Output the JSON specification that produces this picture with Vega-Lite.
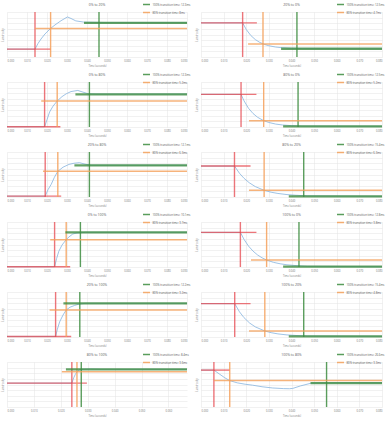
{
"$schema": "https://vega.github.io/schema/vega-lite/v6.json",
"padding": {"left": 1, "top": 0, "right": 1, "bottom": 0},
"background": "white",
"data": {"values": [
{"p":1,"c":"r","k":"v","x":0.014},
{"p":1,"c":"r","k":"h","x":0,"x2":0.022,"y":1.4},
{"p":1,"c":"o","k":"v","x":0.0218,"lg":"80% transition time: 8ms"},
{"p":1,"c":"o","k":"h","x":0.014,"x2":0.09,"y":5.08,"lg":"80% transition time: 8ms"},
{"p":1,"c":"g","k":"v","x":0.046,"lg":"100% transition time: 12.3ms"},
{"p":1,"c":"g","k":"h","x":0.0385,"x2":0.09,"y":6.07,"lg":"100% transition time: 12.3ms"},
{"p":1,"c":"b","x":0,"y":1.4},{"p":1,"c":"b","x":0.014,"y":1.4},{"p":1,"c":"b","x":0.0155,"y":2.4},{"p":1,"c":"b","x":0.017,"y":3.2},{"p":1,"c":"b","x":0.019,"y":4.1},{"p":1,"c":"b","x":0.0218,"y":5.08},{"p":1,"c":"b","x":0.024,"y":5.7},{"p":1,"c":"b","x":0.027,"y":6.45},{"p":1,"c":"b","x":0.0302,"y":7.12},{"p":1,"c":"b","x":0.032,"y":6.85},{"p":1,"c":"b","x":0.0344,"y":6.42},{"p":1,"c":"b","x":0.0385,"y":6.2},{"p":1,"c":"b","x":0.05,"y":6.12},{"p":1,"c":"b","x":0.09,"y":6.12},

{"p":2,"c":"r","k":"v","x":0.0184},
{"p":2,"c":"r","k":"h","x":0,"x2":0.0247,"y":6.07},
{"p":2,"c":"o","k":"v","x":0.0274,"lg":"80% transition time: 4.7ms"},
{"p":2,"c":"o","k":"h","x":0.0208,"x2":0.08,"y":2.33,"lg":"80% transition time: 4.7ms"},
{"p":2,"c":"g","k":"v","x":0.0424,"lg":"100% transition time: 12.5ms"},
{"p":2,"c":"g","k":"h","x":0.0354,"x2":0.08,"y":1.46,"lg":"100% transition time: 12.5ms"},
{"p":2,"c":"b","x":0,"y":6.07},{"p":2,"c":"b","x":0.0184,"y":6.07},{"p":2,"c":"b","x":0.02,"y":4.89},{"p":2,"c":"b","x":0.022,"y":3.83},{"p":2,"c":"b","x":0.024,"y":3.1},{"p":2,"c":"b","x":0.026,"y":2.59},{"p":2,"c":"b","x":0.028,"y":2.24},{"p":2,"c":"b","x":0.03,"y":2.0},{"p":2,"c":"b","x":0.033,"y":1.77},{"p":2,"c":"b","x":0.036,"y":1.64},{"p":2,"c":"b","x":0.04,"y":1.54},{"p":2,"c":"b","x":0.045,"y":1.5},{"p":2,"c":"b","x":0.08,"y":1.46},

{"p":3,"c":"r","k":"v","x":0.0188},
{"p":3,"c":"r","k":"h","x":0,"x2":0.0267,"y":0.05},
{"p":3,"c":"o","k":"v","x":0.0251,"lg":"80% transition time: 5.2ms"},
{"p":3,"c":"o","k":"h","x":0.0171,"x2":0.09,"y":4.62,"lg":"80% transition time: 5.2ms"},
{"p":3,"c":"g","k":"v","x":0.0412,"lg":"100% transition time: 12.3ms"},
{"p":3,"c":"g","k":"h","x":0.0342,"x2":0.09,"y":5.8,"lg":"100% transition time: 12.3ms"},
{"p":3,"c":"b","x":0,"y":0.05},{"p":3,"c":"b","x":0.0188,"y":0.05},{"p":3,"c":"b","x":0.02,"y":1.3},{"p":3,"c":"b","x":0.0213,"y":2.67},{"p":3,"c":"b","x":0.023,"y":3.7},{"p":3,"c":"b","x":0.0251,"y":4.62},{"p":3,"c":"b","x":0.0275,"y":5.4},{"p":3,"c":"b","x":0.0296,"y":5.9},{"p":3,"c":"b","x":0.032,"y":6.3},{"p":3,"c":"b","x":0.0354,"y":6.5},{"p":3,"c":"b","x":0.038,"y":6.2},{"p":3,"c":"b","x":0.0407,"y":5.9},{"p":3,"c":"b","x":0.045,"y":5.85},{"p":3,"c":"b","x":0.09,"y":5.85},

{"p":4,"c":"r","k":"v","x":0.0177},
{"p":4,"c":"r","k":"h","x":0,"x2":0.0245,"y":5.8},
{"p":4,"c":"o","k":"v","x":0.0277,"lg":"80% transition time: 5.2ms"},
{"p":4,"c":"o","k":"h","x":0.0212,"x2":0.08,"y":1.13,"lg":"80% transition time: 5.2ms"},
{"p":4,"c":"g","k":"v","x":0.0429,"lg":"100% transition time: 12.5ms"},
{"p":4,"c":"g","k":"h","x":0.0363,"x2":0.08,"y":0.12,"lg":"100% transition time: 12.5ms"},
{"p":4,"c":"b","x":0,"y":5.8},{"p":4,"c":"b","x":0.0177,"y":5.8},{"p":4,"c":"b","x":0.019,"y":4.66},{"p":4,"c":"b","x":0.021,"y":3.33},{"p":4,"c":"b","x":0.023,"y":2.4},{"p":4,"c":"b","x":0.025,"y":1.73},{"p":4,"c":"b","x":0.0277,"y":1.13},{"p":4,"c":"b","x":0.03,"y":0.8},{"p":4,"c":"b","x":0.033,"y":0.52},{"p":4,"c":"b","x":0.036,"y":0.36},{"p":4,"c":"b","x":0.04,"y":0.24},{"p":4,"c":"b","x":0.045,"y":0.15},{"p":4,"c":"b","x":0.08,"y":0.12},

{"p":5,"c":"r","k":"v","x":0.0191},
{"p":5,"c":"r","k":"h","x":0,"x2":0.0271,"y":0.15},
{"p":5,"c":"o","k":"v","x":0.0254,"lg":"80% transition time: 6.3ms"},
{"p":5,"c":"o","k":"h","x":0.018,"x2":0.09,"y":4.56,"lg":"80% transition time: 6.3ms"},
{"p":5,"c":"g","k":"v","x":0.0412,"lg":"100% transition time: 12.1ms"},
{"p":5,"c":"g","k":"h","x":0.0337,"x2":0.09,"y":5.63,"lg":"100% transition time: 12.1ms"},
{"p":5,"c":"b","x":0,"y":0.15},{"p":5,"c":"b","x":0.0191,"y":0.15},{"p":5,"c":"b","x":0.0205,"y":1.3},{"p":5,"c":"b","x":0.0221,"y":2.25},{"p":5,"c":"b","x":0.0237,"y":3.5},{"p":5,"c":"b","x":0.0254,"y":4.56},{"p":5,"c":"b","x":0.028,"y":5.3},{"p":5,"c":"b","x":0.031,"y":5.8},{"p":5,"c":"b","x":0.0335,"y":6.0},{"p":5,"c":"b","x":0.0362,"y":6.1},{"p":5,"c":"b","x":0.039,"y":5.85},{"p":5,"c":"b","x":0.042,"y":5.65},{"p":5,"c":"b","x":0.09,"y":5.65},

{"p":6,"c":"r","k":"v","x":0.0148},
{"p":6,"c":"r","k":"h","x":0,"x2":0.0219,"y":5.5},
{"p":6,"c":"o","k":"v","x":0.0279,"lg":"80% transition time: 6.3ms"},
{"p":6,"c":"o","k":"h","x":0.0212,"x2":0.08,"y":1.19,"lg":"80% transition time: 6.3ms"},
{"p":6,"c":"g","k":"v","x":0.0454,"lg":"100% transition time: 15.4ms"},
{"p":6,"c":"g","k":"h","x":0.0388,"x2":0.08,"y":0.12,"lg":"100% transition time: 15.4ms"},
{"p":6,"c":"b","x":0,"y":5.5},{"p":6,"c":"b","x":0.0148,"y":5.5},{"p":6,"c":"b","x":0.017,"y":4.22},{"p":6,"c":"b","x":0.019,"y":3.33},{"p":6,"c":"b","x":0.0213,"y":2.54},{"p":6,"c":"b","x":0.024,"y":1.85},{"p":6,"c":"b","x":0.0279,"y":1.19},{"p":6,"c":"b","x":0.031,"y":0.85},{"p":6,"c":"b","x":0.034,"y":0.63},{"p":6,"c":"b","x":0.038,"y":0.43},{"p":6,"c":"b","x":0.042,"y":0.31},{"p":6,"c":"b","x":0.047,"y":0.2},{"p":6,"c":"b","x":0.08,"y":0.12},

{"p":7,"c":"r","k":"v","x":0.0238},
{"p":7,"c":"r","k":"h","x":0,"x2":0.0316,"y":0.05},
{"p":7,"c":"o","k":"v","x":0.0296,"lg":"80% transition time: 3.7ms"},
{"p":7,"c":"o","k":"h","x":0.0216,"x2":0.09,"y":4.86,"lg":"80% transition time: 3.7ms"},
{"p":7,"c":"g","k":"v","x":0.0367,"lg":"100% transition time: 10.1ms"},
{"p":7,"c":"g","k":"h","x":0.0292,"x2":0.09,"y":6.16,"lg":"100% transition time: 10.1ms"},
{"p":7,"c":"b","x":0,"y":0.05},{"p":7,"c":"b","x":0.0238,"y":0.05},{"p":7,"c":"b","x":0.0248,"y":1.5},{"p":7,"c":"b","x":0.0259,"y":2.79},{"p":7,"c":"b","x":0.0275,"y":3.9},{"p":7,"c":"b","x":0.0296,"y":4.86},{"p":7,"c":"b","x":0.031,"y":5.35},{"p":7,"c":"b","x":0.0329,"y":5.87},{"p":7,"c":"b","x":0.035,"y":6.05},{"p":7,"c":"b","x":0.0392,"y":6.16},{"p":7,"c":"b","x":0.09,"y":6.16},

{"p":8,"c":"r","k":"v","x":0.0174},
{"p":8,"c":"r","k":"h","x":0,"x2":0.0245,"y":6.16},
{"p":8,"c":"o","k":"v","x":0.029,"lg":"80% transition time: 3.8ms"},
{"p":8,"c":"o","k":"h","x":0.0221,"x2":0.08,"y":1.24,"lg":"80% transition time: 3.8ms"},
{"p":8,"c":"g","k":"v","x":0.0433,"lg":"100% transition time: 12.8ms"},
{"p":8,"c":"g","k":"h","x":0.0363,"x2":0.08,"y":0.06,"lg":"100% transition time: 12.8ms"},
{"p":8,"c":"b","x":0,"y":6.16},{"p":8,"c":"b","x":0.0174,"y":6.16},{"p":8,"c":"b","x":0.019,"y":4.92},{"p":8,"c":"b","x":0.021,"y":3.72},{"p":8,"c":"b","x":0.023,"y":2.82},{"p":8,"c":"b","x":0.025,"y":2.14},{"p":8,"c":"b","x":0.027,"y":1.63},{"p":8,"c":"b","x":0.029,"y":1.24},{"p":8,"c":"b","x":0.032,"y":0.83},{"p":8,"c":"b","x":0.035,"y":0.57},{"p":8,"c":"b","x":0.038,"y":0.39},{"p":8,"c":"b","x":0.042,"y":0.25},{"p":8,"c":"b","x":0.047,"y":0.12},{"p":8,"c":"b","x":0.08,"y":0.06},

{"p":9,"c":"r","k":"v","x":0.0243},
{"p":9,"c":"r","k":"h","x":0,"x2":0.0321,"y":0.1},
{"p":9,"c":"o","k":"v","x":0.0296,"lg":"80% transition time: 3.2ms"},
{"p":9,"c":"o","k":"h","x":0.0213,"x2":0.09,"y":4.8,"lg":"80% transition time: 3.2ms"},
{"p":9,"c":"g","k":"v","x":0.0364,"lg":"100% transition time: 12.2ms"},
{"p":9,"c":"g","k":"h","x":0.0282,"x2":0.09,"y":5.98,"lg":"100% transition time: 12.2ms"},
{"p":9,"c":"b","x":0,"y":0.1},{"p":9,"c":"b","x":0.0243,"y":0.1},{"p":9,"c":"b","x":0.0252,"y":1.4},{"p":9,"c":"b","x":0.0263,"y":2.67},{"p":9,"c":"b","x":0.028,"y":3.9},{"p":9,"c":"b","x":0.0296,"y":4.8},{"p":9,"c":"b","x":0.0315,"y":5.3},{"p":9,"c":"b","x":0.0337,"y":5.6},{"p":9,"c":"b","x":0.036,"y":5.85},{"p":9,"c":"b","x":0.039,"y":5.98},{"p":9,"c":"b","x":0.09,"y":5.98},

{"p":10,"c":"r","k":"v","x":0.0149},
{"p":10,"c":"r","k":"h","x":0,"x2":0.0219,"y":5.93},
{"p":10,"c":"o","k":"v","x":0.0282,"lg":"80% transition time: 4.8ms"},
{"p":10,"c":"o","k":"h","x":0.0212,"x2":0.08,"y":1.07,"lg":"80% transition time: 4.8ms"},
{"p":10,"c":"g","k":"v","x":0.0454,"lg":"100% transition time: 15.4ms"},
{"p":10,"c":"g","k":"h","x":0.0388,"x2":0.08,"y":0.12,"lg":"100% transition time: 15.4ms"},
{"p":10,"c":"b","x":0,"y":5.93},{"p":10,"c":"b","x":0.0149,"y":5.93},{"p":10,"c":"b","x":0.017,"y":4.48},{"p":10,"c":"b","x":0.019,"y":3.44},{"p":10,"c":"b","x":0.0215,"y":2.48},{"p":10,"c":"b","x":0.024,"y":1.8},{"p":10,"c":"b","x":0.0282,"y":1.07},{"p":10,"c":"b","x":0.031,"y":0.77},{"p":10,"c":"b","x":0.034,"y":0.55},{"p":10,"c":"b","x":0.038,"y":0.37},{"p":10,"c":"b","x":0.042,"y":0.27},{"p":10,"c":"b","x":0.047,"y":0.16},{"p":10,"c":"b","x":0.08,"y":0.12},

{"p":11,"c":"r","k":"v","x":0.0241},
{"p":11,"c":"r","k":"h","x":0,"x2":0.0297,"y":4.25},
{"p":11,"c":"o","k":"v","x":0.026,"lg":"80% transition time: 3.6ms"},
{"p":11,"c":"o","k":"h","x":0.0204,"x2":0.0669,"y":6.25,"lg":"80% transition time: 3.6ms"},
{"p":11,"c":"g","k":"v","x":0.0276,"lg":"100% transition time: 8.4ms"},
{"p":11,"c":"g","k":"h","x":0.0219,"x2":0.0669,"y":6.69,"lg":"100% transition time: 8.4ms"},
{"p":11,"c":"b","x":0,"y":4.25},{"p":11,"c":"b","x":0.0241,"y":4.25},{"p":11,"c":"b","x":0.0248,"y":5.2},{"p":11,"c":"b","x":0.0254,"y":5.8},{"p":11,"c":"b","x":0.026,"y":6.25},{"p":11,"c":"b","x":0.0268,"y":6.56},{"p":11,"c":"b","x":0.0276,"y":6.69},{"p":11,"c":"b","x":0.031,"y":6.75},{"p":11,"c":"b","x":0.035,"y":6.7},{"p":11,"c":"b","x":0.0669,"y":6.69},

{"p":12,"c":"r","k":"v","x":0.0057},
{"p":12,"c":"r","k":"h","x":0,"x2":0.0128,"y":6.56},
{"p":12,"c":"o","k":"v","x":0.0127,"lg":"80% transition time: 3.3ms"},
{"p":12,"c":"o","k":"h","x":0.0057,"x2":0.08,"y":4.69,"lg":"80% transition time: 3.3ms"},
{"p":12,"c":"g","k":"v","x":0.0555,"lg":"100% transition time: 26.6ms"},
{"p":12,"c":"g","k":"h","x":0.0484,"x2":0.08,"y":4.25,"lg":"100% transition time: 26.6ms"},
{"p":12,"c":"b","x":0,"y":6.56},{"p":12,"c":"b","x":0.0057,"y":6.56},{"p":12,"c":"b","x":0.008,"y":5.9},{"p":12,"c":"b","x":0.0105,"y":5.2},{"p":12,"c":"b","x":0.0127,"y":4.69},{"p":12,"c":"b","x":0.016,"y":4.3},{"p":12,"c":"b","x":0.0195,"y":4.05},{"p":12,"c":"b","x":0.0228,"y":3.88},{"p":12,"c":"b","x":0.027,"y":3.6},{"p":12,"c":"b","x":0.0317,"y":3.38},{"p":12,"c":"b","x":0.0365,"y":3.27},{"p":12,"c":"b","x":0.0391,"y":3.25},{"p":12,"c":"b","x":0.0406,"y":3.31},{"p":12,"c":"b","x":0.044,"y":3.75},{"p":12,"c":"b","x":0.0488,"y":4.25},{"p":12,"c":"b","x":0.06,"y":4.3},{"p":12,"c":"b","x":0.08,"y":4.3}
]},
"columns": 2,
"bounds": "flush",
"spacing": {"row": 25, "column": 14},
"concat": [
{"title":"0% to 20%","width":180,"height":45,"transform":[{"filter":"datum.p==1"}],
 "encoding":{"x":{"field":"x","type":"quantitative","scale":{"domain":[0,0.09],"nice":false},"axis":{"title":"Time (seconds)","format":".3f","values":[0,0.01,0.02,0.03,0.04,0.05,0.06,0.07,0.08,0.09]}}},
 "layer":[
  {"transform":[{"filter":"datum.c=='b'"}],"mark":{"type":"line","color":"#86b4de","strokeWidth":0.8},"encoding":{"y":{"field":"y","type":"quantitative","scale":{"domain":[0,8],"nice":false},"axis":{"title":"Luminosity","labels":false,"values":[0,1,2,3,4,5,6,7,8]}}}},
  {"transform":[{"filter":"datum.c=='r'&&datum.k=='v'"}],"mark":{"type":"rule","color":"#e5474d","strokeWidth":1.4,"opacity":0.75},"encoding":{}},
  {"transform":[{"filter":"datum.c=='r'&&datum.k=='h'"}],"mark":{"type":"rule","color":"#e5474d","strokeWidth":1.4,"opacity":0.75},"encoding":{"x2":{"field":"x2"},"y":{"field":"y","type":"quantitative","scale":{"domain":[0,8],"nice":false},"axis":{"title":"Luminosity","labels":false,"values":[0,1,2,3,4,5,6,7,8]}}}},
  {"transform":[{"filter":"(datum.c=='o'||datum.c=='g')&&datum.k=='v'"}],"mark":{"type":"rule","strokeWidth":1.4,"opacity":0.85},"encoding":{"color":{"field":"lg","type":"nominal","legend":{"title":null}}}},
  {"transform":[{"filter":"(datum.c=='o'||datum.c=='g')&&datum.k=='h'"}],"mark":{"type":"rule","opacity":0.8},"encoding":{"x2":{"field":"x2"},"y":{"field":"y","type":"quantitative","scale":{"domain":[0,8],"nice":false},"axis":{"title":"Luminosity","labels":false,"values":[0,1,2,3,4,5,6,7,8]}},"color":{"field":"lg","type":"nominal","legend":{"title":null}},"strokeWidth":{"condition":{"test":"datum.c=='g'","value":2.4},"value":1.5}}}
 ]},
{"title":"20% to 0%","width":181,"height":45,"transform":[{"filter":"datum.p==2"}],
 "encoding":{"x":{"field":"x","type":"quantitative","scale":{"domain":[0,0.08],"nice":false},"axis":{"title":"Time (seconds)","format":".3f","values":[0,0.01,0.02,0.03,0.04,0.05,0.06,0.07,0.08]}}},
 "layer":[
  {"transform":[{"filter":"datum.c=='b'"}],"mark":{"type":"line","color":"#86b4de","strokeWidth":0.8},"encoding":{"y":{"field":"y","type":"quantitative","scale":{"domain":[0,8],"nice":false},"axis":{"title":"Luminosity","labels":false,"values":[0,1,2,3,4,5,6,7,8]}}}},
  {"transform":[{"filter":"datum.c=='r'&&datum.k=='v'"}],"mark":{"type":"rule","color":"#e5474d","strokeWidth":1.4,"opacity":0.75},"encoding":{}},
  {"transform":[{"filter":"datum.c=='r'&&datum.k=='h'"}],"mark":{"type":"rule","color":"#e5474d","strokeWidth":1.4,"opacity":0.75},"encoding":{"x2":{"field":"x2"},"y":{"field":"y","type":"quantitative","scale":{"domain":[0,8],"nice":false},"axis":{"title":"Luminosity","labels":false,"values":[0,1,2,3,4,5,6,7,8]}}}},
  {"transform":[{"filter":"(datum.c=='o'||datum.c=='g')&&datum.k=='v'"}],"mark":{"type":"rule","strokeWidth":1.4,"opacity":0.85},"encoding":{"color":{"field":"lg","type":"nominal","legend":{"title":null}}}},
  {"transform":[{"filter":"(datum.c=='o'||datum.c=='g')&&datum.k=='h'"}],"mark":{"type":"rule","opacity":0.8},"encoding":{"x2":{"field":"x2"},"y":{"field":"y","type":"quantitative","scale":{"domain":[0,8],"nice":false},"axis":{"title":"Luminosity","labels":false,"values":[0,1,2,3,4,5,6,7,8]}},"color":{"field":"lg","type":"nominal","legend":{"title":null}},"strokeWidth":{"condition":{"test":"datum.c=='g'","value":2.4},"value":1.5}}}
 ]},
{"title":"0% to 80%","width":180,"height":45,"transform":[{"filter":"datum.p==3"}],
 "encoding":{"x":{"field":"x","type":"quantitative","scale":{"domain":[0,0.09],"nice":false},"axis":{"title":"Time (seconds)","format":".3f","values":[0,0.01,0.02,0.03,0.04,0.05,0.06,0.07,0.08,0.09]}}},
 "layer":[
  {"transform":[{"filter":"datum.c=='b'"}],"mark":{"type":"line","color":"#86b4de","strokeWidth":0.8},"encoding":{"y":{"field":"y","type":"quantitative","scale":{"domain":[0,8],"nice":false},"axis":{"title":"Luminosity","labels":false,"values":[0,1,2,3,4,5,6,7,8]}}}},
  {"transform":[{"filter":"datum.c=='r'&&datum.k=='v'"}],"mark":{"type":"rule","color":"#e5474d","strokeWidth":1.4,"opacity":0.75},"encoding":{}},
  {"transform":[{"filter":"datum.c=='r'&&datum.k=='h'"}],"mark":{"type":"rule","color":"#e5474d","strokeWidth":1.4,"opacity":0.75},"encoding":{"x2":{"field":"x2"},"y":{"field":"y","type":"quantitative","scale":{"domain":[0,8],"nice":false},"axis":{"title":"Luminosity","labels":false,"values":[0,1,2,3,4,5,6,7,8]}}}},
  {"transform":[{"filter":"(datum.c=='o'||datum.c=='g')&&datum.k=='v'"}],"mark":{"type":"rule","strokeWidth":1.4,"opacity":0.85},"encoding":{"color":{"field":"lg","type":"nominal","legend":{"title":null}}}},
  {"transform":[{"filter":"(datum.c=='o'||datum.c=='g')&&datum.k=='h'"}],"mark":{"type":"rule","opacity":0.8},"encoding":{"x2":{"field":"x2"},"y":{"field":"y","type":"quantitative","scale":{"domain":[0,8],"nice":false},"axis":{"title":"Luminosity","labels":false,"values":[0,1,2,3,4,5,6,7,8]}},"color":{"field":"lg","type":"nominal","legend":{"title":null}},"strokeWidth":{"condition":{"test":"datum.c=='g'","value":2.4},"value":1.5}}}
 ]},
{"title":"80% to 0%","width":181,"height":45,"transform":[{"filter":"datum.p==4"}],
 "encoding":{"x":{"field":"x","type":"quantitative","scale":{"domain":[0,0.08],"nice":false},"axis":{"title":"Time (seconds)","format":".3f","values":[0,0.01,0.02,0.03,0.04,0.05,0.06,0.07,0.08]}}},
 "layer":[
  {"transform":[{"filter":"datum.c=='b'"}],"mark":{"type":"line","color":"#86b4de","strokeWidth":0.8},"encoding":{"y":{"field":"y","type":"quantitative","scale":{"domain":[0,8],"nice":false},"axis":{"title":"Luminosity","labels":false,"values":[0,1,2,3,4,5,6,7,8]}}}},
  {"transform":[{"filter":"datum.c=='r'&&datum.k=='v'"}],"mark":{"type":"rule","color":"#e5474d","strokeWidth":1.4,"opacity":0.75},"encoding":{}},
  {"transform":[{"filter":"datum.c=='r'&&datum.k=='h'"}],"mark":{"type":"rule","color":"#e5474d","strokeWidth":1.4,"opacity":0.75},"encoding":{"x2":{"field":"x2"},"y":{"field":"y","type":"quantitative","scale":{"domain":[0,8],"nice":false},"axis":{"title":"Luminosity","labels":false,"values":[0,1,2,3,4,5,6,7,8]}}}},
  {"transform":[{"filter":"(datum.c=='o'||datum.c=='g')&&datum.k=='v'"}],"mark":{"type":"rule","strokeWidth":1.4,"opacity":0.85},"encoding":{"color":{"field":"lg","type":"nominal","legend":{"title":null}}}},
  {"transform":[{"filter":"(datum.c=='o'||datum.c=='g')&&datum.k=='h'"}],"mark":{"type":"rule","opacity":0.8},"encoding":{"x2":{"field":"x2"},"y":{"field":"y","type":"quantitative","scale":{"domain":[0,8],"nice":false},"axis":{"title":"Luminosity","labels":false,"values":[0,1,2,3,4,5,6,7,8]}},"color":{"field":"lg","type":"nominal","legend":{"title":null}},"strokeWidth":{"condition":{"test":"datum.c=='g'","value":2.4},"value":1.5}}}
 ]},
{"title":"20% to 80%","width":180,"height":45,"transform":[{"filter":"datum.p==5"}],
 "encoding":{"x":{"field":"x","type":"quantitative","scale":{"domain":[0,0.09],"nice":false},"axis":{"title":"Time (seconds)","format":".3f","values":[0,0.01,0.02,0.03,0.04,0.05,0.06,0.07,0.08,0.09]}}},
 "layer":[
  {"transform":[{"filter":"datum.c=='b'"}],"mark":{"type":"line","color":"#86b4de","strokeWidth":0.8},"encoding":{"y":{"field":"y","type":"quantitative","scale":{"domain":[0,8],"nice":false},"axis":{"title":"Luminosity","labels":false,"values":[0,1,2,3,4,5,6,7,8]}}}},
  {"transform":[{"filter":"datum.c=='r'&&datum.k=='v'"}],"mark":{"type":"rule","color":"#e5474d","strokeWidth":1.4,"opacity":0.75},"encoding":{}},
  {"transform":[{"filter":"datum.c=='r'&&datum.k=='h'"}],"mark":{"type":"rule","color":"#e5474d","strokeWidth":1.4,"opacity":0.75},"encoding":{"x2":{"field":"x2"},"y":{"field":"y","type":"quantitative","scale":{"domain":[0,8],"nice":false},"axis":{"title":"Luminosity","labels":false,"values":[0,1,2,3,4,5,6,7,8]}}}},
  {"transform":[{"filter":"(datum.c=='o'||datum.c=='g')&&datum.k=='v'"}],"mark":{"type":"rule","strokeWidth":1.4,"opacity":0.85},"encoding":{"color":{"field":"lg","type":"nominal","legend":{"title":null}}}},
  {"transform":[{"filter":"(datum.c=='o'||datum.c=='g')&&datum.k=='h'"}],"mark":{"type":"rule","opacity":0.8},"encoding":{"x2":{"field":"x2"},"y":{"field":"y","type":"quantitative","scale":{"domain":[0,8],"nice":false},"axis":{"title":"Luminosity","labels":false,"values":[0,1,2,3,4,5,6,7,8]}},"color":{"field":"lg","type":"nominal","legend":{"title":null}},"strokeWidth":{"condition":{"test":"datum.c=='g'","value":2.4},"value":1.5}}}
 ]},
{"title":"80% to 20%","width":181,"height":45,"transform":[{"filter":"datum.p==6"}],
 "encoding":{"x":{"field":"x","type":"quantitative","scale":{"domain":[0,0.08],"nice":false},"axis":{"title":"Time (seconds)","format":".3f","values":[0,0.01,0.02,0.03,0.04,0.05,0.06,0.07,0.08]}}},
 "layer":[
  {"transform":[{"filter":"datum.c=='b'"}],"mark":{"type":"line","color":"#86b4de","strokeWidth":0.8},"encoding":{"y":{"field":"y","type":"quantitative","scale":{"domain":[0,8],"nice":false},"axis":{"title":"Luminosity","labels":false,"values":[0,1,2,3,4,5,6,7,8]}}}},
  {"transform":[{"filter":"datum.c=='r'&&datum.k=='v'"}],"mark":{"type":"rule","color":"#e5474d","strokeWidth":1.4,"opacity":0.75},"encoding":{}},
  {"transform":[{"filter":"datum.c=='r'&&datum.k=='h'"}],"mark":{"type":"rule","color":"#e5474d","strokeWidth":1.4,"opacity":0.75},"encoding":{"x2":{"field":"x2"},"y":{"field":"y","type":"quantitative","scale":{"domain":[0,8],"nice":false},"axis":{"title":"Luminosity","labels":false,"values":[0,1,2,3,4,5,6,7,8]}}}},
  {"transform":[{"filter":"(datum.c=='o'||datum.c=='g')&&datum.k=='v'"}],"mark":{"type":"rule","strokeWidth":1.4,"opacity":0.85},"encoding":{"color":{"field":"lg","type":"nominal","legend":{"title":null}}}},
  {"transform":[{"filter":"(datum.c=='o'||datum.c=='g')&&datum.k=='h'"}],"mark":{"type":"rule","opacity":0.8},"encoding":{"x2":{"field":"x2"},"y":{"field":"y","type":"quantitative","scale":{"domain":[0,8],"nice":false},"axis":{"title":"Luminosity","labels":false,"values":[0,1,2,3,4,5,6,7,8]}},"color":{"field":"lg","type":"nominal","legend":{"title":null}},"strokeWidth":{"condition":{"test":"datum.c=='g'","value":2.4},"value":1.5}}}
 ]},
{"title":"0% to 100%","width":180,"height":45,"transform":[{"filter":"datum.p==7"}],
 "encoding":{"x":{"field":"x","type":"quantitative","scale":{"domain":[0,0.09],"nice":false},"axis":{"title":"Time (seconds)","format":".3f","values":[0,0.01,0.02,0.03,0.04,0.05,0.06,0.07,0.08,0.09]}}},
 "layer":[
  {"transform":[{"filter":"datum.c=='b'"}],"mark":{"type":"line","color":"#86b4de","strokeWidth":0.8},"encoding":{"y":{"field":"y","type":"quantitative","scale":{"domain":[0,8],"nice":false},"axis":{"title":"Luminosity","labels":false,"values":[0,1,2,3,4,5,6,7,8]}}}},
  {"transform":[{"filter":"datum.c=='r'&&datum.k=='v'"}],"mark":{"type":"rule","color":"#e5474d","strokeWidth":1.4,"opacity":0.75},"encoding":{}},
  {"transform":[{"filter":"datum.c=='r'&&datum.k=='h'"}],"mark":{"type":"rule","color":"#e5474d","strokeWidth":1.4,"opacity":0.75},"encoding":{"x2":{"field":"x2"},"y":{"field":"y","type":"quantitative","scale":{"domain":[0,8],"nice":false},"axis":{"title":"Luminosity","labels":false,"values":[0,1,2,3,4,5,6,7,8]}}}},
  {"transform":[{"filter":"(datum.c=='o'||datum.c=='g')&&datum.k=='v'"}],"mark":{"type":"rule","strokeWidth":1.4,"opacity":0.85},"encoding":{"color":{"field":"lg","type":"nominal","legend":{"title":null}}}},
  {"transform":[{"filter":"(datum.c=='o'||datum.c=='g')&&datum.k=='h'"}],"mark":{"type":"rule","opacity":0.8},"encoding":{"x2":{"field":"x2"},"y":{"field":"y","type":"quantitative","scale":{"domain":[0,8],"nice":false},"axis":{"title":"Luminosity","labels":false,"values":[0,1,2,3,4,5,6,7,8]}},"color":{"field":"lg","type":"nominal","legend":{"title":null}},"strokeWidth":{"condition":{"test":"datum.c=='g'","value":2.4},"value":1.5}}}
 ]},
{"title":"100% to 0%","width":181,"height":45,"transform":[{"filter":"datum.p==8"}],
 "encoding":{"x":{"field":"x","type":"quantitative","scale":{"domain":[0,0.08],"nice":false},"axis":{"title":"Time (seconds)","format":".3f","values":[0,0.01,0.02,0.03,0.04,0.05,0.06,0.07,0.08]}}},
 "layer":[
  {"transform":[{"filter":"datum.c=='b'"}],"mark":{"type":"line","color":"#86b4de","strokeWidth":0.8},"encoding":{"y":{"field":"y","type":"quantitative","scale":{"domain":[0,8],"nice":false},"axis":{"title":"Luminosity","labels":false,"values":[0,1,2,3,4,5,6,7,8]}}}},
  {"transform":[{"filter":"datum.c=='r'&&datum.k=='v'"}],"mark":{"type":"rule","color":"#e5474d","strokeWidth":1.4,"opacity":0.75},"encoding":{}},
  {"transform":[{"filter":"datum.c=='r'&&datum.k=='h'"}],"mark":{"type":"rule","color":"#e5474d","strokeWidth":1.4,"opacity":0.75},"encoding":{"x2":{"field":"x2"},"y":{"field":"y","type":"quantitative","scale":{"domain":[0,8],"nice":false},"axis":{"title":"Luminosity","labels":false,"values":[0,1,2,3,4,5,6,7,8]}}}},
  {"transform":[{"filter":"(datum.c=='o'||datum.c=='g')&&datum.k=='v'"}],"mark":{"type":"rule","strokeWidth":1.4,"opacity":0.85},"encoding":{"color":{"field":"lg","type":"nominal","legend":{"title":null}}}},
  {"transform":[{"filter":"(datum.c=='o'||datum.c=='g')&&datum.k=='h'"}],"mark":{"type":"rule","opacity":0.8},"encoding":{"x2":{"field":"x2"},"y":{"field":"y","type":"quantitative","scale":{"domain":[0,8],"nice":false},"axis":{"title":"Luminosity","labels":false,"values":[0,1,2,3,4,5,6,7,8]}},"color":{"field":"lg","type":"nominal","legend":{"title":null}},"strokeWidth":{"condition":{"test":"datum.c=='g'","value":2.4},"value":1.5}}}
 ]},
{"title":"20% to 100%","width":180,"height":45,"transform":[{"filter":"datum.p==9"}],
 "encoding":{"x":{"field":"x","type":"quantitative","scale":{"domain":[0,0.09],"nice":false},"axis":{"title":"Time (seconds)","format":".3f","values":[0,0.01,0.02,0.03,0.04,0.05,0.06,0.07,0.08,0.09]}}},
 "layer":[
  {"transform":[{"filter":"datum.c=='b'"}],"mark":{"type":"line","color":"#86b4de","strokeWidth":0.8},"encoding":{"y":{"field":"y","type":"quantitative","scale":{"domain":[0,8],"nice":false},"axis":{"title":"Luminosity","labels":false,"values":[0,1,2,3,4,5,6,7,8]}}}},
  {"transform":[{"filter":"datum.c=='r'&&datum.k=='v'"}],"mark":{"type":"rule","color":"#e5474d","strokeWidth":1.4,"opacity":0.75},"encoding":{}},
  {"transform":[{"filter":"datum.c=='r'&&datum.k=='h'"}],"mark":{"type":"rule","color":"#e5474d","strokeWidth":1.4,"opacity":0.75},"encoding":{"x2":{"field":"x2"},"y":{"field":"y","type":"quantitative","scale":{"domain":[0,8],"nice":false},"axis":{"title":"Luminosity","labels":false,"values":[0,1,2,3,4,5,6,7,8]}}}},
  {"transform":[{"filter":"(datum.c=='o'||datum.c=='g')&&datum.k=='v'"}],"mark":{"type":"rule","strokeWidth":1.4,"opacity":0.85},"encoding":{"color":{"field":"lg","type":"nominal","legend":{"title":null}}}},
  {"transform":[{"filter":"(datum.c=='o'||datum.c=='g')&&datum.k=='h'"}],"mark":{"type":"rule","opacity":0.8},"encoding":{"x2":{"field":"x2"},"y":{"field":"y","type":"quantitative","scale":{"domain":[0,8],"nice":false},"axis":{"title":"Luminosity","labels":false,"values":[0,1,2,3,4,5,6,7,8]}},"color":{"field":"lg","type":"nominal","legend":{"title":null}},"strokeWidth":{"condition":{"test":"datum.c=='g'","value":2.4},"value":1.5}}}
 ]},
{"title":"100% to 20%","width":181,"height":45,"transform":[{"filter":"datum.p==10"}],
 "encoding":{"x":{"field":"x","type":"quantitative","scale":{"domain":[0,0.08],"nice":false},"axis":{"title":"Time (seconds)","format":".3f","values":[0,0.01,0.02,0.03,0.04,0.05,0.06,0.07,0.08]}}},
 "layer":[
  {"transform":[{"filter":"datum.c=='b'"}],"mark":{"type":"line","color":"#86b4de","strokeWidth":0.8},"encoding":{"y":{"field":"y","type":"quantitative","scale":{"domain":[0,8],"nice":false},"axis":{"title":"Luminosity","labels":false,"values":[0,1,2,3,4,5,6,7,8]}}}},
  {"transform":[{"filter":"datum.c=='r'&&datum.k=='v'"}],"mark":{"type":"rule","color":"#e5474d","strokeWidth":1.4,"opacity":0.75},"encoding":{}},
  {"transform":[{"filter":"datum.c=='r'&&datum.k=='h'"}],"mark":{"type":"rule","color":"#e5474d","strokeWidth":1.4,"opacity":0.75},"encoding":{"x2":{"field":"x2"},"y":{"field":"y","type":"quantitative","scale":{"domain":[0,8],"nice":false},"axis":{"title":"Luminosity","labels":false,"values":[0,1,2,3,4,5,6,7,8]}}}},
  {"transform":[{"filter":"(datum.c=='o'||datum.c=='g')&&datum.k=='v'"}],"mark":{"type":"rule","strokeWidth":1.4,"opacity":0.85},"encoding":{"color":{"field":"lg","type":"nominal","legend":{"title":null}}}},
  {"transform":[{"filter":"(datum.c=='o'||datum.c=='g')&&datum.k=='h'"}],"mark":{"type":"rule","opacity":0.8},"encoding":{"x2":{"field":"x2"},"y":{"field":"y","type":"quantitative","scale":{"domain":[0,8],"nice":false},"axis":{"title":"Luminosity","labels":false,"values":[0,1,2,3,4,5,6,7,8]}},"color":{"field":"lg","type":"nominal","legend":{"title":null}},"strokeWidth":{"condition":{"test":"datum.c=='g'","value":2.4},"value":1.5}}}
 ]},
{"title":"80% to 100%","width":180,"height":45,"transform":[{"filter":"datum.p==11"}],
 "encoding":{"x":{"field":"x","type":"quantitative","scale":{"domain":[0,0.0669],"nice":false},"axis":{"title":"Time (seconds)","format":".3f","values":[0,0.01,0.02,0.03,0.04,0.05,0.06]}}},
 "layer":[
  {"transform":[{"filter":"datum.c=='b'"}],"mark":{"type":"line","color":"#86b4de","strokeWidth":0.8},"encoding":{"y":{"field":"y","type":"quantitative","scale":{"domain":[0,8],"nice":false},"axis":{"title":"Luminosity","labels":false,"values":[0,1,2,3,4,5,6,7,8]}}}},
  {"transform":[{"filter":"datum.c=='r'&&datum.k=='v'"}],"mark":{"type":"rule","color":"#e5474d","strokeWidth":1.4,"opacity":0.75},"encoding":{}},
  {"transform":[{"filter":"datum.c=='r'&&datum.k=='h'"}],"mark":{"type":"rule","color":"#e5474d","strokeWidth":1.4,"opacity":0.75},"encoding":{"x2":{"field":"x2"},"y":{"field":"y","type":"quantitative","scale":{"domain":[0,8],"nice":false},"axis":{"title":"Luminosity","labels":false,"values":[0,1,2,3,4,5,6,7,8]}}}},
  {"transform":[{"filter":"(datum.c=='o'||datum.c=='g')&&datum.k=='v'"}],"mark":{"type":"rule","strokeWidth":1.4,"opacity":0.85},"encoding":{"color":{"field":"lg","type":"nominal","legend":{"title":null}}}},
  {"transform":[{"filter":"(datum.c=='o'||datum.c=='g')&&datum.k=='h'"}],"mark":{"type":"rule","opacity":0.8},"encoding":{"x2":{"field":"x2"},"y":{"field":"y","type":"quantitative","scale":{"domain":[0,8],"nice":false},"axis":{"title":"Luminosity","labels":false,"values":[0,1,2,3,4,5,6,7,8]}},"color":{"field":"lg","type":"nominal","legend":{"title":null}},"strokeWidth":{"condition":{"test":"datum.c=='g'","value":2.4},"value":1.5}}}
 ]},
{"title":"100% to 80%","width":181,"height":45,"transform":[{"filter":"datum.p==12"}],
 "encoding":{"x":{"field":"x","type":"quantitative","scale":{"domain":[0,0.08],"nice":false},"axis":{"title":"Time (seconds)","format":".3f","values":[0,0.01,0.02,0.03,0.04,0.05,0.06,0.07,0.08]}}},
 "layer":[
  {"transform":[{"filter":"datum.c=='b'"}],"mark":{"type":"line","color":"#86b4de","strokeWidth":0.8},"encoding":{"y":{"field":"y","type":"quantitative","scale":{"domain":[0,8],"nice":false},"axis":{"title":"Luminosity","labels":false,"values":[0,1,2,3,4,5,6,7,8]}}}},
  {"transform":[{"filter":"datum.c=='r'&&datum.k=='v'"}],"mark":{"type":"rule","color":"#e5474d","strokeWidth":1.4,"opacity":0.75},"encoding":{}},
  {"transform":[{"filter":"datum.c=='r'&&datum.k=='h'"}],"mark":{"type":"rule","color":"#e5474d","strokeWidth":1.4,"opacity":0.75},"encoding":{"x2":{"field":"x2"},"y":{"field":"y","type":"quantitative","scale":{"domain":[0,8],"nice":false},"axis":{"title":"Luminosity","labels":false,"values":[0,1,2,3,4,5,6,7,8]}}}},
  {"transform":[{"filter":"(datum.c=='o'||datum.c=='g')&&datum.k=='v'"}],"mark":{"type":"rule","strokeWidth":1.4,"opacity":0.85},"encoding":{"color":{"field":"lg","type":"nominal","legend":{"title":null}}}},
  {"transform":[{"filter":"(datum.c=='o'||datum.c=='g')&&datum.k=='h'"}],"mark":{"type":"rule","opacity":0.8},"encoding":{"x2":{"field":"x2"},"y":{"field":"y","type":"quantitative","scale":{"domain":[0,8],"nice":false},"axis":{"title":"Luminosity","labels":false,"values":[0,1,2,3,4,5,6,7,8]}},"color":{"field":"lg","type":"nominal","legend":{"title":null}},"strokeWidth":{"condition":{"test":"datum.c=='g'","value":2.4},"value":1.5}}}
 ]}
],
"resolve": {"scale": {"x": "independent", "y": "independent", "color": "independent"}, "legend": {"color": "independent"}},
"config": {
 "font": "Open Sans",
 "view": {"stroke": null},
 "title": {"fontSize": 3.4, "fontWeight": "normal", "color": "#595959", "offset": -6.5},
 "axis": {"gridColor": "#e2e2e2", "gridWidth": 0.5, "domain": false, "ticks": false, "labelFontSize": 2.6, "labelColor": "#7a7a7a", "titleFontSize": 2.6, "titleColor": "#7a7a7a", "titleFontWeight": "normal", "labelPadding": 2.5},
 "axisX": {"titlePadding": 2},
 "axisY": {"titlePadding": 3},
 "legend": {"orient": "none", "legendX": 135, "legendY": -12, "labelFontSize": 2.8, "labelColor": "#555555", "symbolType": "stroke", "symbolStrokeWidth": 1.5, "symbolSize": 49, "rowPadding": -4, "labelOffset": 1.5},
 "range": {"category": ["#3d8c40", "#f4a05a"]}
}
}
